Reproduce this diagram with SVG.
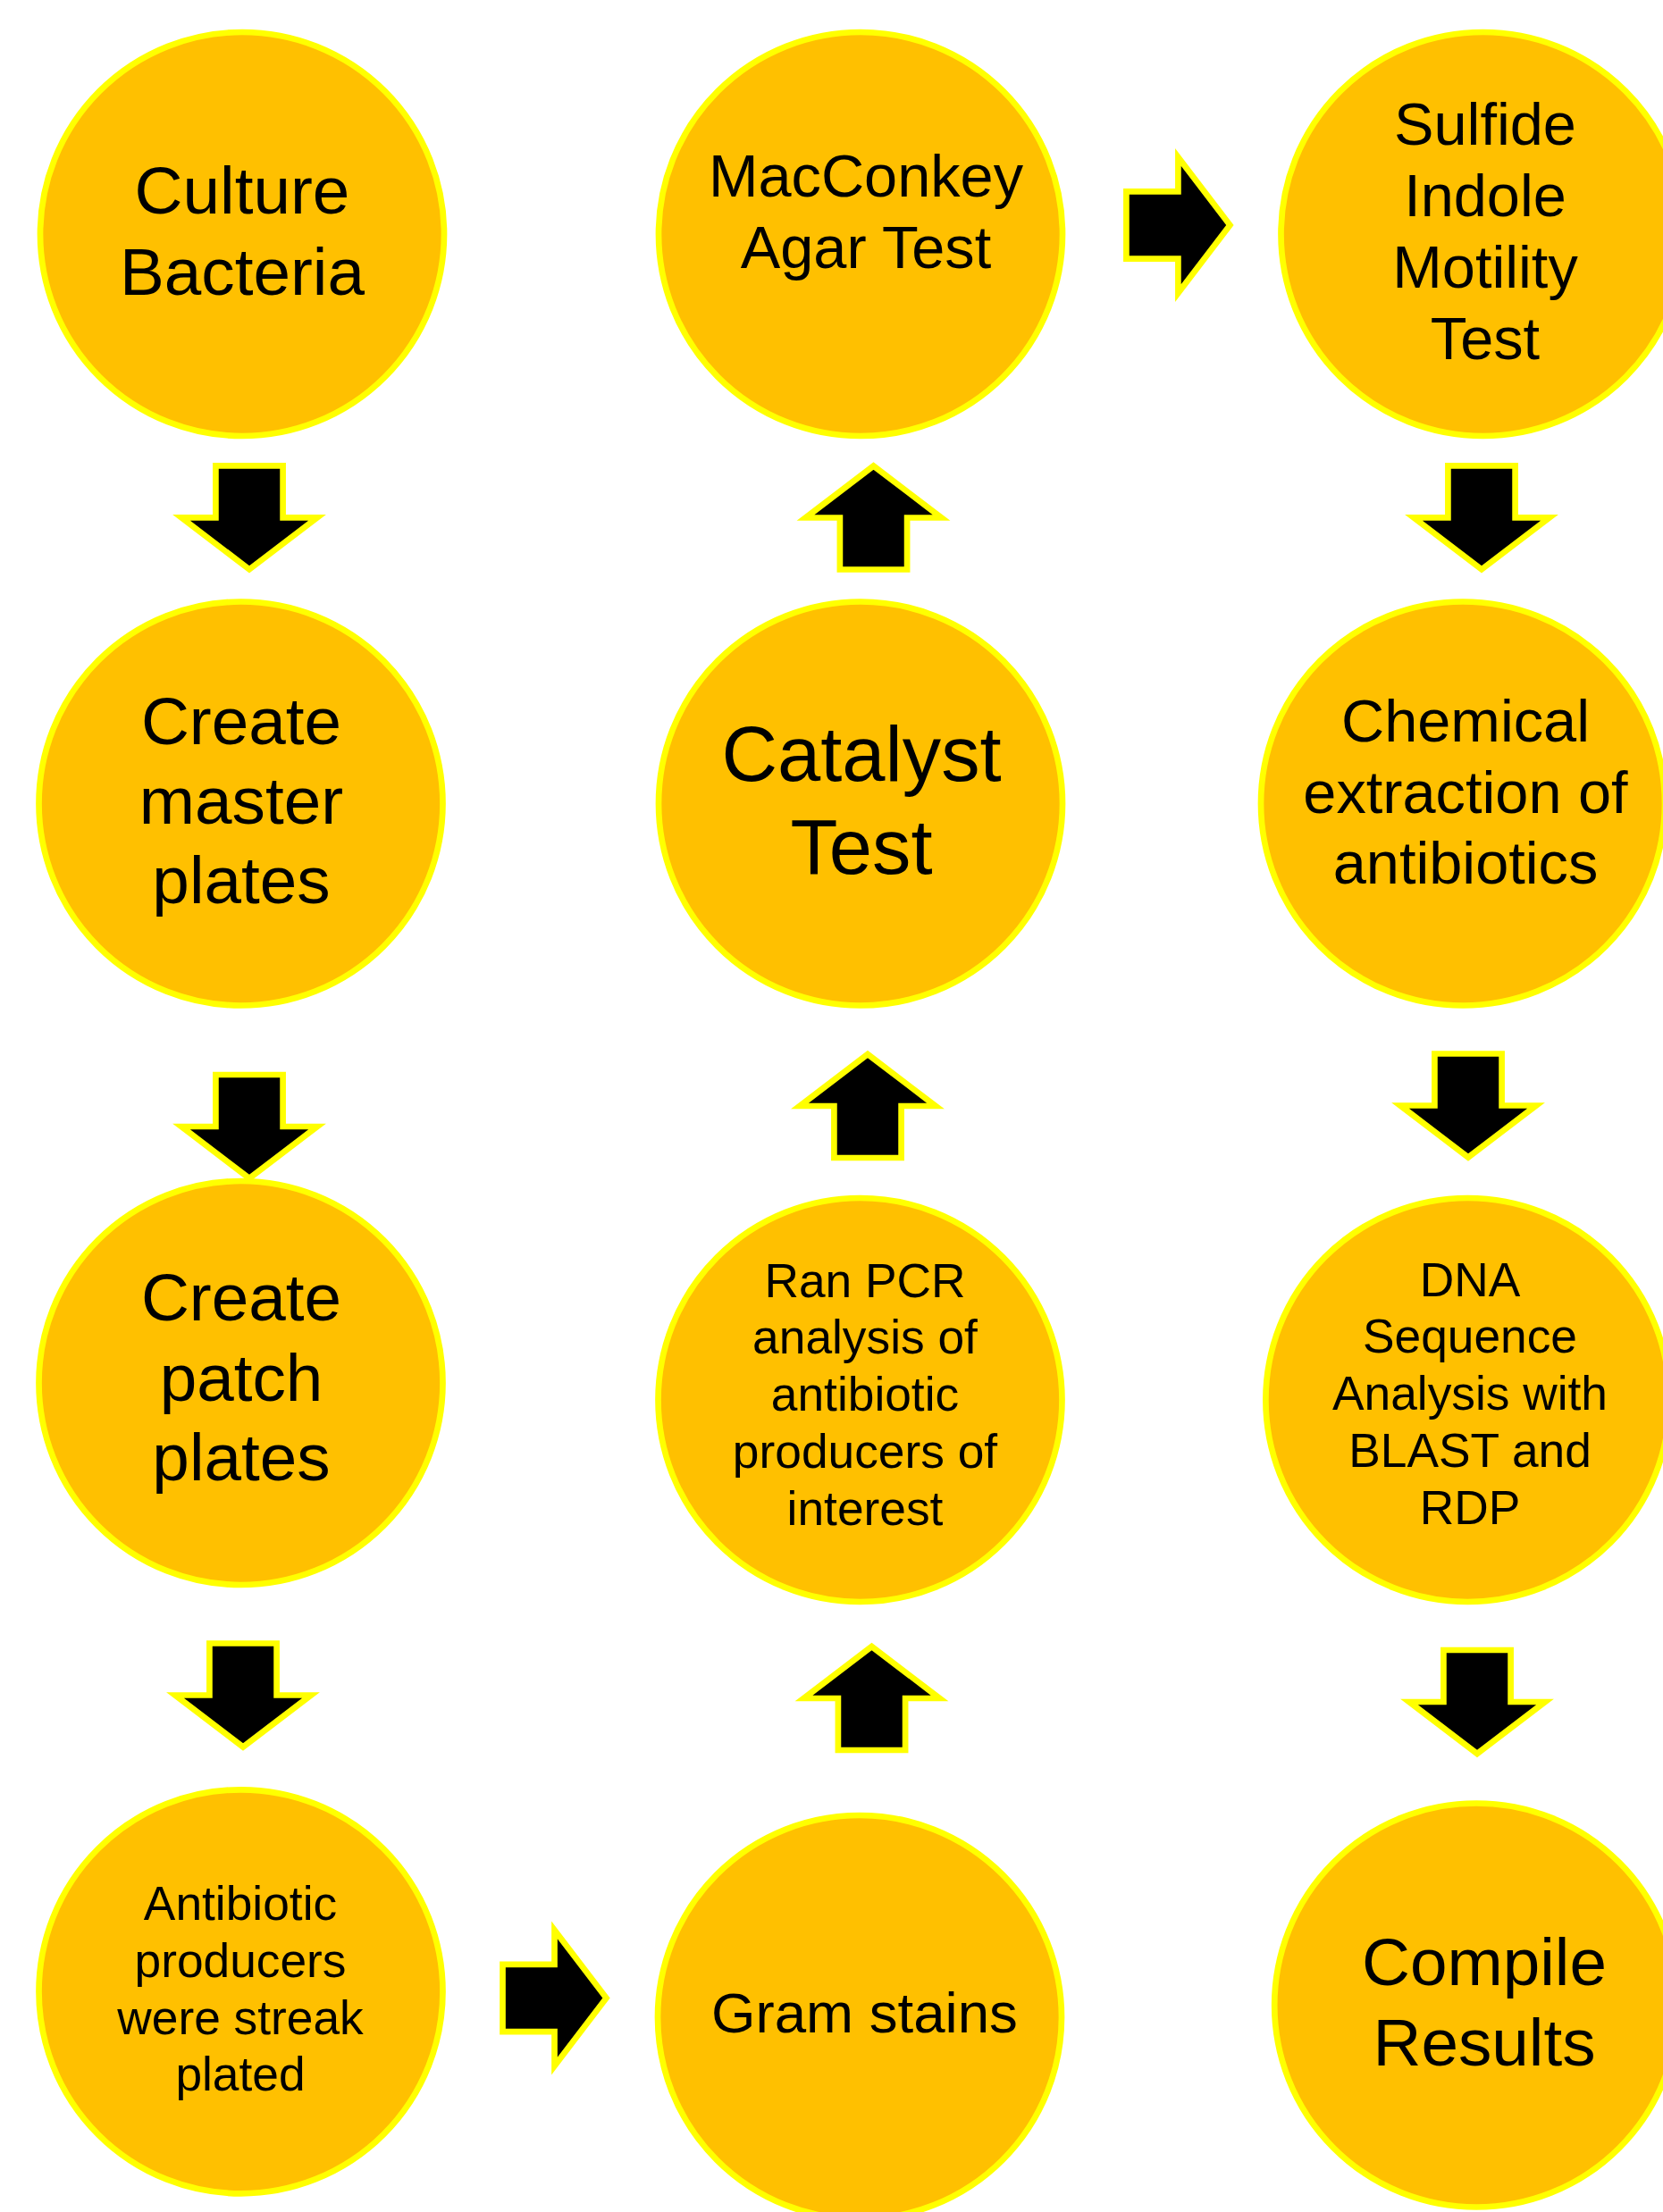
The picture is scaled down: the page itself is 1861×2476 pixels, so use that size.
<svg xmlns="http://www.w3.org/2000/svg" xmlns:xlink="http://www.w3.org/1999/xlink" width="1861" height="2476" viewBox="0 0 1861 2476">
  <style>
    .step { fill: #FFC000; stroke: #FFFF00; stroke-width: 6.7; }
    .label { font-family: "Liberation Sans", Arial, sans-serif; fill: #000000; text-anchor: middle; }
    .f74 { font-size: 74.7px; }
    .f87 { font-size: 86.7px; }
    .f67 { font-size: 66.7px; }
    .f64 { font-size: 63.6px; }
    .f53 { font-size: 53.3px; }
    .arrow { fill: #000000; stroke: #FFFF00; stroke-width: 6.7; stroke-linejoin: miter; }
  </style>
  <defs>
    <!-- block arrows, drawn at the stroke centre; origin at tail centre (down/right) or tip (up) -->
    <path id="arrow-down" d="M-37.6,0 H37.6 V58 H76 L0,116 L-76,58 H-37.6 Z"/>
    <path id="arrow-up" d="M-37.6,116 H37.6 V58 H76 L0,0 L-76,58 H-37.6 Z"/>
    <path id="arrow-right" d="M0,-37.6 V37.6 H58 V76 L116,0 L58,-76 V-37.6 Z"/>
  </defs>

  <rect x="0" y="0" width="1861" height="2476" fill="#FFFFFF"/>

  <g id="connectors">
    <use xlink:href="#arrow-down" class="arrow" transform="translate(279,521.4)"/>
    <use xlink:href="#arrow-down" class="arrow" transform="translate(279,1203)"/>
    <use xlink:href="#arrow-down" class="arrow" transform="translate(272,1839.5)"/>
    <use xlink:href="#arrow-right" class="arrow" transform="translate(562.5,2236.5)"/>
    <use xlink:href="#arrow-up" class="arrow" transform="translate(975.5,1843)"/>
    <use xlink:href="#arrow-up" class="arrow" transform="translate(971,1180)"/>
    <use xlink:href="#arrow-up" class="arrow" transform="translate(977.5,521.5)"/>
    <use xlink:href="#arrow-right" class="arrow" transform="translate(1260.4,252)"/>
    <use xlink:href="#arrow-down" class="arrow" transform="translate(1658,521.4)"/>
    <use xlink:href="#arrow-down" class="arrow" transform="translate(1643,1179.5)"/>
    <use xlink:href="#arrow-down" class="arrow" transform="translate(1653,1847)"/>
  </g>

  <g id="culture-bacteria">
    <circle class="step" cx="271" cy="262" r="226"/>
    <text class="label f74" x="271"><tspan x="271" y="239.3">Culture</tspan><tspan x="271" y="330">Bacteria</tspan></text>
  </g>

  <g id="create-master-plates">
    <circle class="step" cx="269.5" cy="899.5" r="226"/>
    <text class="label f74"><tspan x="270" y="832.5">Create</tspan><tspan x="270" y="921.8">master</tspan><tspan x="270" y="1010.7">plates</tspan></text>
  </g>

  <g id="create-patch-plates">
    <circle class="step" cx="269.5" cy="1548" r="226"/>
    <text class="label f74"><tspan x="270" y="1478">Create</tspan><tspan x="270" y="1567.5">patch</tspan><tspan x="270" y="1657">plates</tspan></text>
  </g>

  <g id="streak-plated">
    <circle class="step" cx="269.5" cy="2229.3" r="226"/>
    <text class="label f53"><tspan x="269" y="2148.6">Antibiotic</tspan><tspan x="269" y="2212.5">producers</tspan><tspan x="269" y="2276.5">were streak</tspan><tspan x="269" y="2340.4">plated</tspan></text>
  </g>

  <g id="gram-stains">
    <circle class="step" cx="962" cy="2258" r="226"/>
    <text class="label f64" x="967.5" y="2275">Gram stains</text>
  </g>

  <g id="pcr-analysis">
    <circle class="step" cx="962.5" cy="1567" r="226"/>
    <text class="label f53"><tspan x="968" y="1451.6">Ran PCR</tspan><tspan x="968" y="1515.3">analysis of</tspan><tspan x="968" y="1579">antibiotic</tspan><tspan x="968" y="1642.8">producers of</tspan><tspan x="968" y="1706.6">interest</tspan></text>
  </g>

  <g id="catalyst-test">
    <circle class="step" cx="963" cy="899.5" r="226"/>
    <text class="label f87"><tspan x="964" y="874.3">Catalyst</tspan><tspan x="964" y="978.3">Test</tspan></text>
  </g>

  <g id="macconkey-agar-test">
    <circle class="step" cx="963" cy="262" r="226"/>
    <text class="label f67"><tspan x="969" y="220">MacConkey</tspan><tspan x="969" y="300">Agar Test</tspan></text>
  </g>

  <g id="sim-test">
    <circle class="step" cx="1659.5" cy="262" r="226"/>
    <text class="label f67"><tspan x="1662" y="161.7">Sulfide</tspan><tspan x="1662" y="241.7">Indole</tspan><tspan x="1662" y="321.7">Motility</tspan><tspan x="1662" y="401.7">Test</tspan></text>
  </g>

  <g id="chemical-extraction">
    <circle class="step" cx="1637" cy="899.5" r="226"/>
    <text class="label f67"><tspan x="1640" y="830">Chemical</tspan><tspan x="1640" y="909.7">extraction of</tspan><tspan x="1640" y="989.4">antibiotics</tspan></text>
  </g>

  <g id="dna-sequence-analysis">
    <circle class="step" cx="1642.4" cy="1567" r="226"/>
    <text class="label f53"><tspan x="1645" y="1450.6">DNA</tspan><tspan x="1645" y="1514.4">Sequence</tspan><tspan x="1645" y="1578.3">Analysis with</tspan><tspan x="1645" y="1642.2">BLAST and</tspan><tspan x="1645" y="1706">RDP</tspan></text>
  </g>

  <g id="compile-results">
    <circle class="step" cx="1652.2" cy="2244.5" r="226"/>
    <text class="label f74"><tspan x="1661" y="2221.7">Compile</tspan><tspan x="1661" y="2312.3">Results</tspan></text>
  </g>
</svg>
